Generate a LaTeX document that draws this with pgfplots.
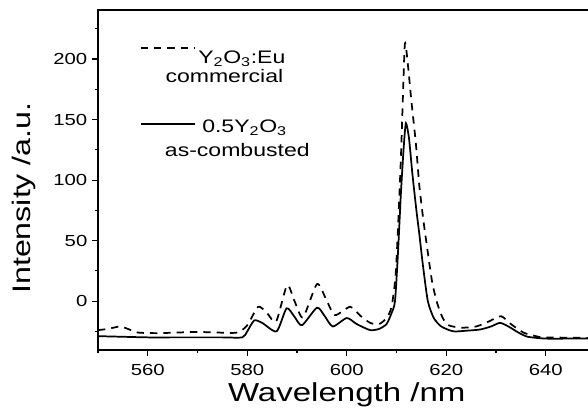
\documentclass[border=0pt]{standalone}
\usepackage{fontspec}
\setmainfont{Liberation Sans}[FakeStretch=1.27]
\usepackage{pgfplots}
\usepackage{pgfplotstable}
\pgfplotsset{compat=1.18}

% commercial Y2O3:Eu (dashed)
\pgfplotstableread{
x y
550 -24
552 -23
554.4 -21
556 -23
558 -26
562 -26.5
566 -26
570 -25.5
574 -26
578 -26
580 -20
582.2 -4.7
584 -10
585.8 -17
588 13
589.5 0
591.2 -13.5
594 14
595.8 2
597.6 -11.6
600.7 -4.7
602.7 -12
604.7 -18
606.5 -19
608 -14
609 -5
609.8 20
610.3 60
610.9 120
611.3 170
611.7 213
612.3 195
613 165
613.9 130
614.6 95
615.4 67
616.3 40
617.2 15
618.2 -2
619.3 -14
620.5 -20
623 -22
626 -21
628.5 -17
631 -12.5
633 -19
635.5 -26
638 -29
640 -30
650 -30.5
}\commercial

% 0.5Y2O3 as-combusted (solid)
\pgfplotstableread{
x y
550 -29
555 -29.5
560 -30
565 -30
570 -30
575 -30
579 -30
580 -25
581.4 -16
583 -18
585.9 -25
587.9 -6
589.5 -13
591 -20
594 -5.5
595.5 -12
597.2 -21
600 -14
602 -19
604.7 -24
606.5 -23
608 -19
609 -10
609.7 0
610.3 40
610.9 90
611.5 130
611.9 147
612.5 135
613.2 105
614 75
614.6 55
615.3 30
616.3 0
617.5 -14
619 -21
621.4 -25
624 -24.5
626.8 -23.5
629 -21
630.8 -18
632.5 -21
634.5 -26
636.4 -29.5
640 -31
645 -31
650 -31
}\combusted

\begin{document}
\begin{tikzpicture}
\begin{axis}[
    scale only axis,
    width=373pt, height=255pt,
    xmin=550, xmax=650,
    ymin=-40.5, ymax=240.5,
    axis line style={line width=0.9pt},
    tick pos=left,
    tick align=outside,
    xtick={560,580,...,640},
    minor xtick={550,570,...,650},
    ytick={0,50,...,200},
    minor ytick={-25,25,...,225},
    major tick length=4.5pt,
    minor tick length=2.5pt,
    tick style={line width=0.8pt, black},
    tick label style={font=\fontsize{12}{14}\selectfont},
    xticklabel style={yshift=-2.5pt},
    /pgf/number format/assume math mode=true,
    xlabel={Wavelength /nm},
    ylabel={Intensity /a.u.},
    xlabel style={font=\fontsize{19.5}{22}\selectfont,
        at={(axis description cs:0.5,-0.152)}, anchor=base},
    ylabel style={font=\fontsize{19}{22}\selectfont,
        at={(axis description cs:-0.1367,0.447)}, anchor=base},
]
    \addplot[black, line width=1.3pt, smooth, tension=0.4, dash pattern=on 5.5pt off 4.5pt] table[x=x, y=y] {\commercial};
    \addplot[black, line width=1.3pt, smooth, tension=0.4] table[x=x, y=y] {\combusted};

    % legend
    \draw[black, line width=1.3pt, dash pattern=on 5.5pt off 4.5pt]
        (axis cs:558.6,209.4) -- (axis cs:569.5,209.4);
    \node[anchor=base west, inner sep=0pt, font=\fontsize{13.6}{16}\selectfont]
        at (axis cs:570.1,196.2) {Y\textsubscript{2}O\textsubscript{3}:Eu};
    \node[anchor=base, inner sep=0pt, font=\fontsize{13.6}{16}\selectfont]
        at (axis cs:575.4,180.5) {commercial};
    \draw[black, line width=1.3pt]
        (axis cs:558.6,146.5) -- (axis cs:569.5,146.5);
    \node[anchor=base west, inner sep=0pt, font=\fontsize{13.6}{16}\selectfont]
        at (axis cs:570.9,139) {0.5Y\textsubscript{2}O\textsubscript{3}};
    \node[anchor=base, inner sep=0pt, font=\fontsize{13.6}{16}\selectfont]
        at (axis cs:578,119.2) {as-combusted};

    \coordinate (bl) at (rel axis cs:0,0);
    \coordinate (tr) at (rel axis cs:1,1);
\end{axis}
\pgfresetboundingbox
\useasboundingbox ([xshift=-73.5pt,yshift=-43.5pt]bl) rectangle ([xshift=-5.6pt,yshift=7.5pt]tr);
\end{tikzpicture}
\end{document}
